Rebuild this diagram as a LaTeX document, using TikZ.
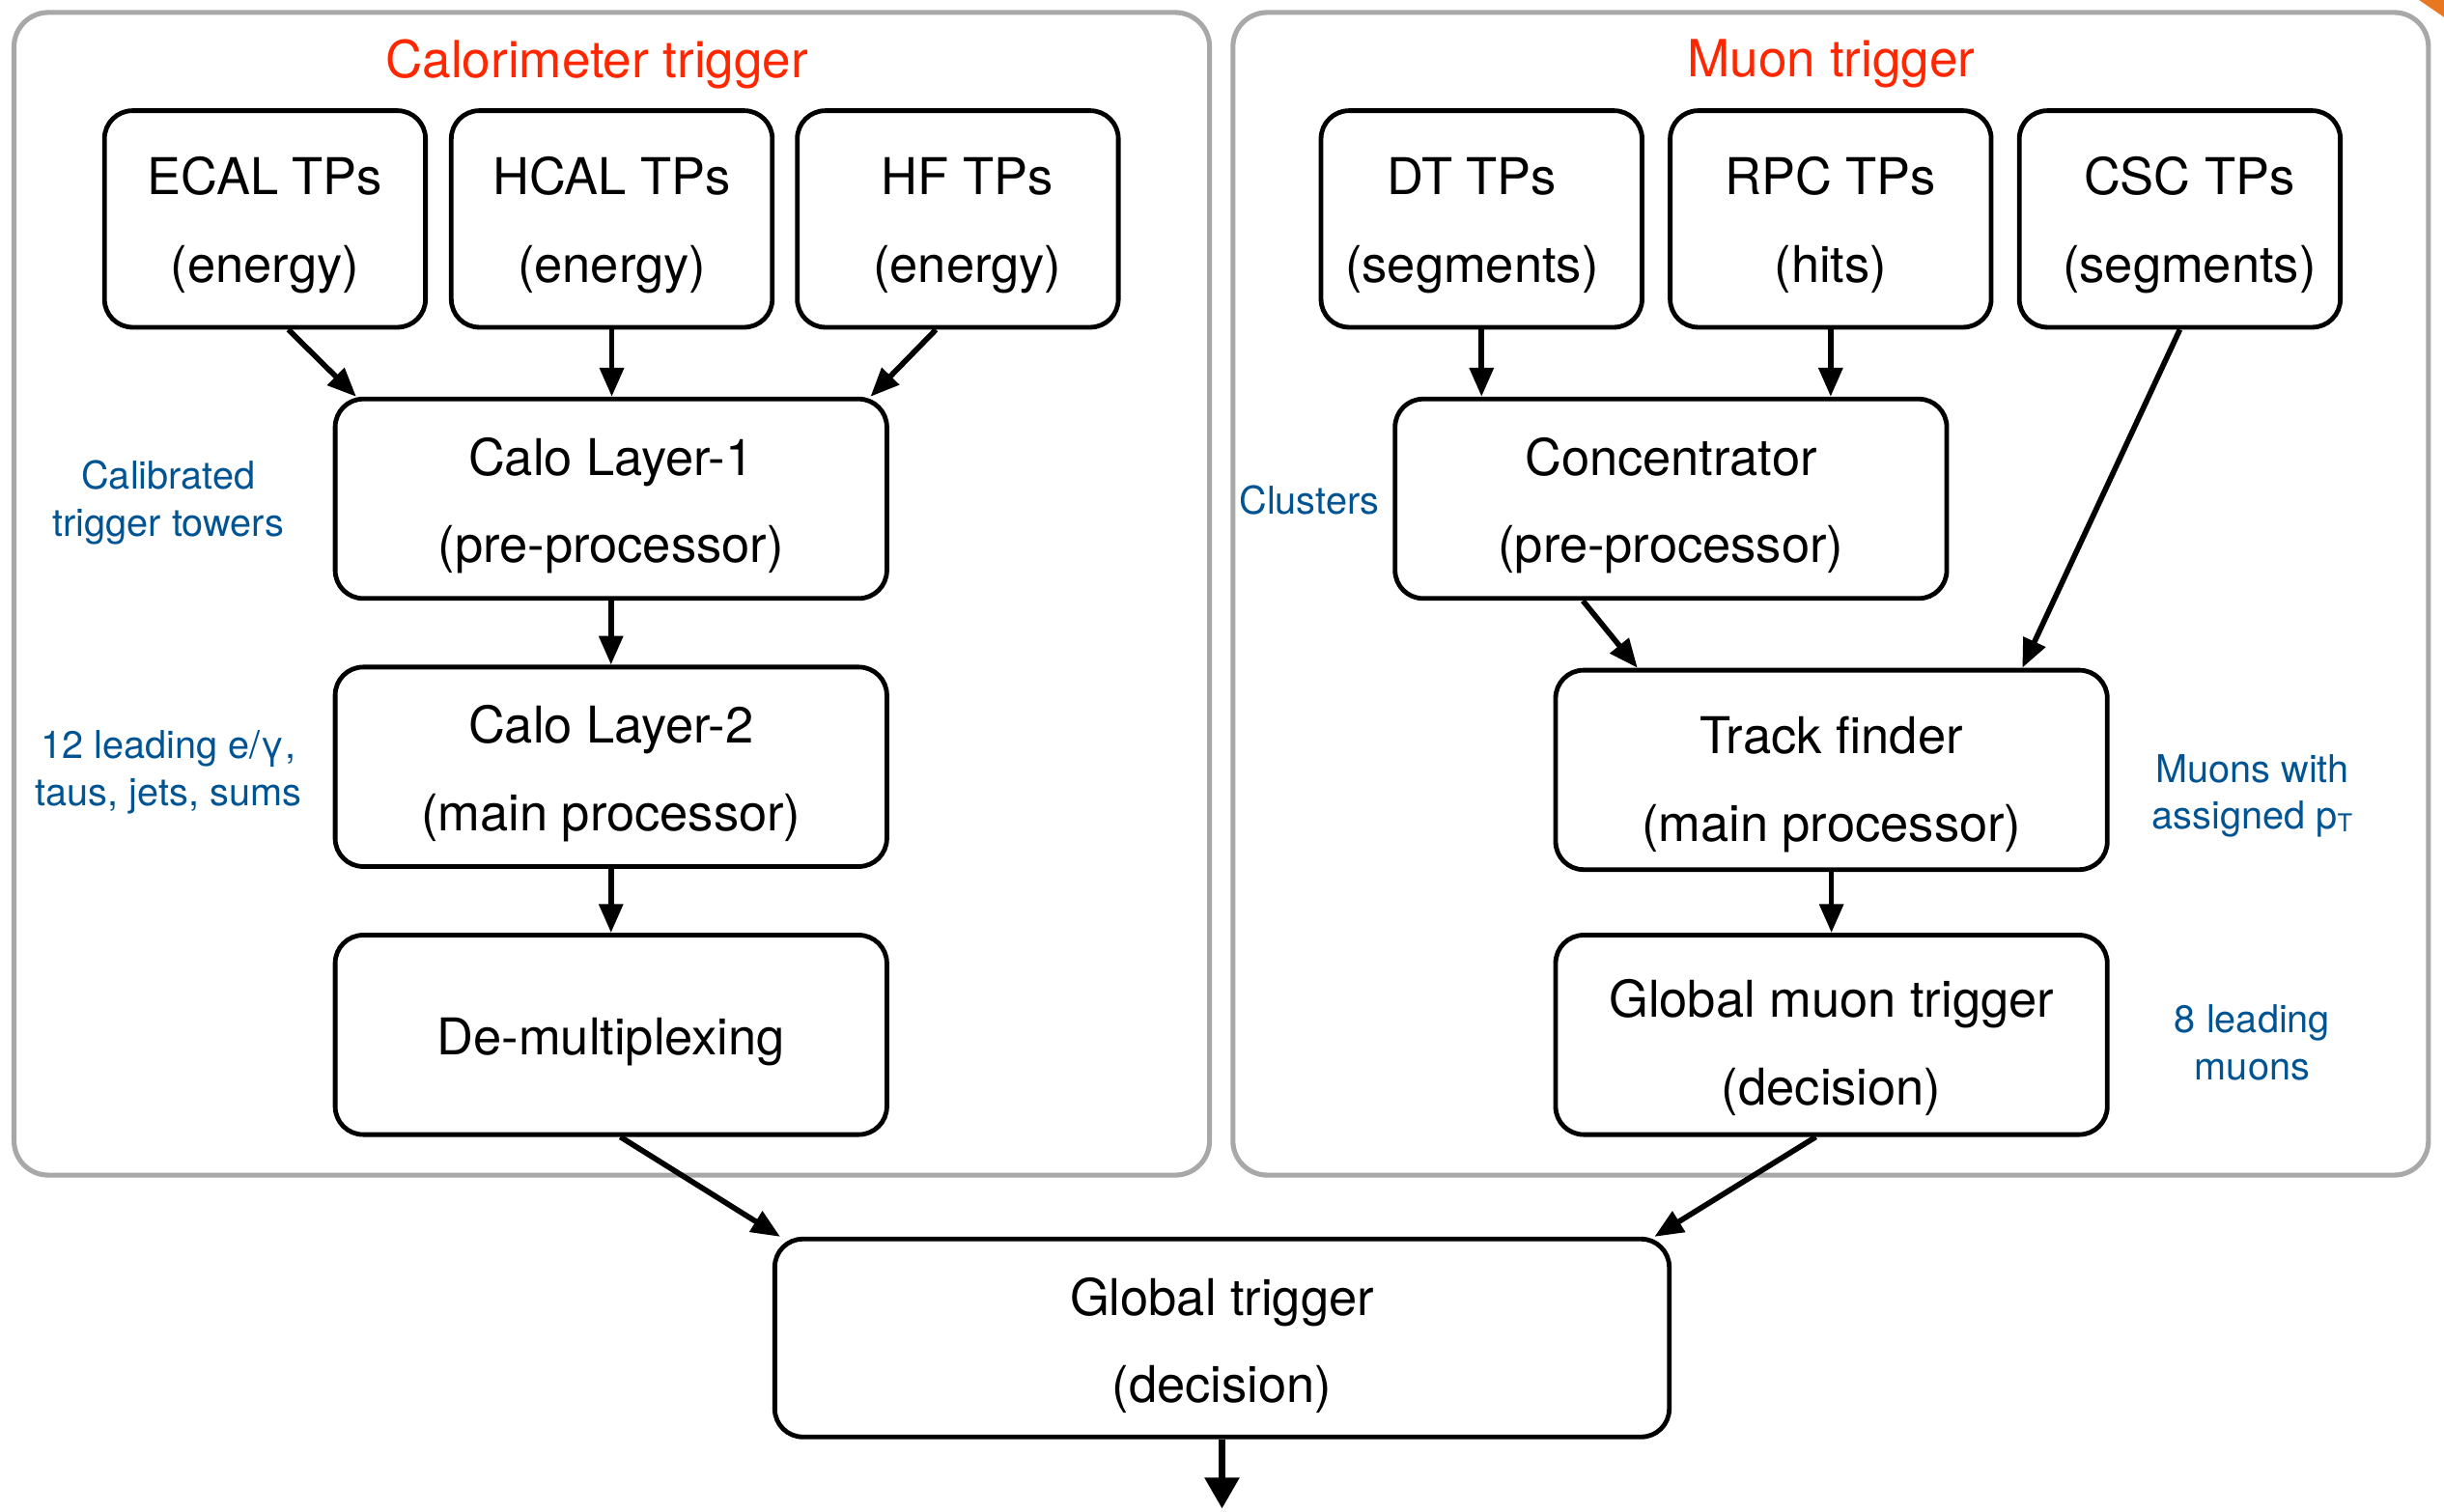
\documentclass[tikz,border=0pt]{standalone}
\usepackage{fontspec}
\setmainfont{TeX Gyre Heros}
\usepackage{tikz}
\usetikzlibrary{arrows.meta,calc}
\definecolor{titlered}{RGB}{255,38,0}
\definecolor{lblblue}{RGB}{0,84,147}
\definecolor{panelgray}{RGB}{168,168,168}
\definecolor{cornerorange}{RGB}{232,119,34}
\newcommand{\nudge}{\hspace*{7pt}}
\tikzset{
  box/.style={draw, line width=1.7pt, rounded corners=0.36cm, align=center, inner sep=0pt,
    font=\fontsize{18.5}{32}\selectfont, text height=46.8pt, text depth=0pt},
  tpbox/.style={box, minimum width=4.12cm, minimum height=2.78cm, text height=46.2pt},
  procbox/.style={box, minimum width=7.08cm, minimum height=2.56cm},
  lbl/.style={text=lblblue, align=center, font=\fontsize{14}{17}\selectfont},
  ttl/.style={text=titlered, font=\fontsize{18.7}{22}\selectfont},
  panel/.style={draw=panelgray, line width=1.8pt, rounded corners=0.44cm},
  arr/.style={-{Triangle[width=0.3cm,length=0.37cm]}, line width=2pt},
}

\begin{document}
\begin{tikzpicture}[x=0.02cm, y=-0.02cm]
  \useasboundingbox (0,0) rectangle (1568,970);
  \fill[cornerorange] (1552,0) -- (1568,0) -- (1568,11) -- cycle;
  \draw[panel] (9,8) rectangle (776,754);
  \draw[panel] (791,8) rectangle (1558,754);
  \node[ttl] (calottl) at (383,41) {Calorimeter trigger};
  \node[ttl] (muonttl) at (1175,41) {Muon trigger};

  \node[tpbox] (ecal) at (170,140.5) {ECAL TPs\\(energy)};
  \node[tpbox] (hcal) at (392.5,140.5) {HCAL TPs\\(energy)};
  \node[tpbox] (hf) at (614.5,140.5) {\nudge HF TPs\\\nudge (energy)};
  \node[procbox] (layerone) at (392,320) {Calo Layer-1\\(pre-processor)};
  \node[procbox] (layertwo) at (392,492) {Calo Layer-2\\(main processor)};
  \node[procbox, text height=18.5pt, text depth=3.9pt] (demux) at (392,664) {De-multiplexing};

  \node[tpbox] (dt) at (950.5,140.5) {DT TPs\nudge\\(segments)\nudge};
  \node[tpbox] (rpc) at (1174.5,140.5) {RPC TPs\\(hits)};
  \node[tpbox] (csc) at (1398.5,140.5) {\nudge CSC TPs\\\nudge (segments)};
  \node[procbox] (conc) at (1072,320) {Concentrator\\(pre-processor)};
  \node[procbox, text height=52.4pt] (tf) at (1175,494) {Track finder\\(main processor)};
  \node[procbox, text height=51.4pt] (gmt) at (1175,664) {Global muon trigger\\(decision)};

  \node[box, minimum width=11.48cm, minimum height=2.54cm, text height=47.4pt] (gt) at (784,858.5) {Global trigger\\(decision)};
  \coordinate (out) at (784,968);

  \node[lbl] (towers) at (108,322.5) {Calibrated\\trigger towers};
  \node[lbl] (leading) at (108,495.5) {12 leading e/γ,\\taus, jets, sums};
  \node[lbl] (clusters) at (840,321) {Clusters};
  \node[lbl] (assigned) at (1445,510.5) {Muons with\\assigned p\raisebox{-1pt}{\fontsize{9}{9}\selectfont T}};
  \node[lbl] (eightmu) at (1445,669) {8 leading\\muons};

  \draw[arr] ($(ecal.south)+(15,0)$) -- ($(layerone.north west)+(15,0)$);
  \draw[arr] (hcal.south) -- (hcal.south |- layerone.north);
  \draw[arr] ($(hf.south)+(-14,0)$) -- ($(layerone.north east)+(-12,0)$);
  \draw[arr] (layerone) -- (layertwo);
  \draw[arr] (layertwo) -- (demux);
  \draw[arr] ($(demux.south)+(6,0)$) -- ($(gt.north west)+(5,0)$);

  \draw[arr] (dt.south) -- (dt.south |- conc.north);
  \draw[arr] (rpc.south) -- (rpc.south |- conc.north);
  \draw[arr] (csc.south) -- ($(tf.north east)+(-56,0)$);
  \draw[arr] ($(conc.south west)+(122,0)$) -- ($(tf.north west)+(54,0)$);
  \draw[arr] (tf) -- (gmt);
  \draw[arr] ($(gmt.south)+(-10,0)$) -- ($(gt.north east)+(-11,0)$);

  \draw[-{Triangle[width=0.43cm,length=0.4cm]}, line width=2.5pt] (gt.south) -- (out);
\end{tikzpicture}
\end{document}
